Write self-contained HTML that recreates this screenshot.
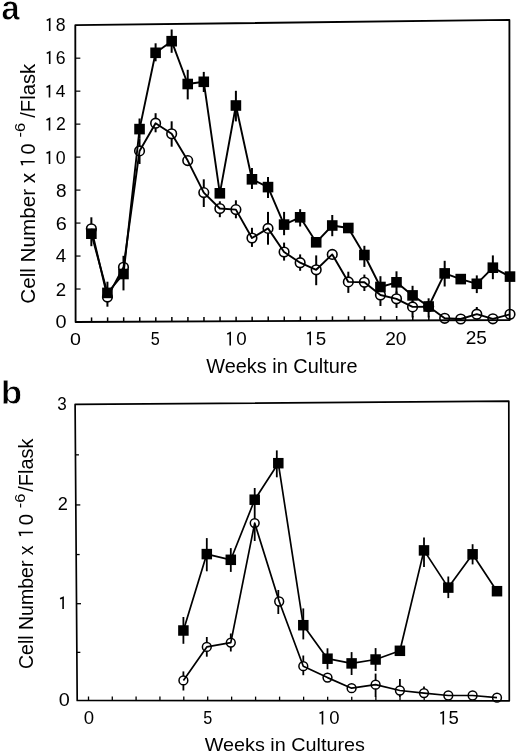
<!DOCTYPE html>
<html><head><meta charset="utf-8"><style>
html,body{margin:0;padding:0;background:#fff;}
svg{display:block;will-change:transform;}
text{font-family:"Liberation Sans",sans-serif;fill:#000;stroke:none;}
</style></head><body>
<svg width="520" height="755" viewBox="0 0 520 755" stroke="#000" stroke-linecap="butt">
<rect x="0" y="0" width="520" height="755" fill="#fff" stroke="none"/>
<g stroke="none">
</g>
<line x1="75.57" y1="289.02" x2="80.57" y2="289.02" stroke-width="1.2"/>
<line x1="75.53" y1="256.04" x2="80.53" y2="256.04" stroke-width="1.2"/>
<line x1="75.50" y1="223.07" x2="80.50" y2="223.07" stroke-width="1.2"/>
<line x1="75.47" y1="190.09" x2="80.47" y2="190.09" stroke-width="1.2"/>
<line x1="75.43" y1="157.11" x2="80.43" y2="157.11" stroke-width="1.2"/>
<line x1="75.40" y1="124.13" x2="80.40" y2="124.13" stroke-width="1.2"/>
<line x1="75.37" y1="91.16" x2="80.37" y2="91.16" stroke-width="1.2"/>
<line x1="75.33" y1="58.18" x2="80.33" y2="58.18" stroke-width="1.2"/>
<line x1="91.56" y1="321.93" x2="91.56" y2="317.43" stroke-width="1.5"/>
<line x1="107.62" y1="321.85" x2="107.62" y2="317.35" stroke-width="1.5"/>
<line x1="123.68" y1="321.78" x2="123.68" y2="317.28" stroke-width="1.5"/>
<line x1="139.74" y1="321.70" x2="139.74" y2="317.20" stroke-width="1.5"/>
<line x1="155.80" y1="321.63" x2="155.80" y2="317.13" stroke-width="1.5"/>
<line x1="171.86" y1="321.56" x2="171.86" y2="317.06" stroke-width="1.5"/>
<line x1="187.92" y1="321.48" x2="187.92" y2="316.98" stroke-width="1.5"/>
<line x1="203.98" y1="321.41" x2="203.98" y2="316.91" stroke-width="1.5"/>
<line x1="220.04" y1="321.33" x2="220.04" y2="316.83" stroke-width="1.5"/>
<line x1="236.10" y1="321.26" x2="236.10" y2="316.76" stroke-width="1.5"/>
<line x1="252.16" y1="321.19" x2="252.16" y2="316.69" stroke-width="1.5"/>
<line x1="268.22" y1="321.11" x2="268.22" y2="316.61" stroke-width="1.5"/>
<line x1="284.28" y1="321.04" x2="284.28" y2="316.54" stroke-width="1.5"/>
<line x1="300.34" y1="320.96" x2="300.34" y2="316.46" stroke-width="1.5"/>
<line x1="316.40" y1="320.89" x2="316.40" y2="316.39" stroke-width="1.5"/>
<line x1="332.46" y1="320.82" x2="332.46" y2="316.32" stroke-width="1.5"/>
<line x1="348.52" y1="320.74" x2="348.52" y2="316.24" stroke-width="1.5"/>
<line x1="364.58" y1="320.67" x2="364.58" y2="316.17" stroke-width="1.5"/>
<line x1="380.64" y1="320.59" x2="380.64" y2="316.09" stroke-width="1.5"/>
<line x1="396.70" y1="320.52" x2="396.70" y2="316.02" stroke-width="1.5"/>
<line x1="412.76" y1="320.45" x2="412.76" y2="315.95" stroke-width="1.5"/>
<line x1="428.82" y1="320.37" x2="428.82" y2="315.87" stroke-width="1.5"/>
<line x1="444.88" y1="320.30" x2="444.88" y2="315.80" stroke-width="1.5"/>
<line x1="460.94" y1="320.22" x2="460.94" y2="315.72" stroke-width="1.5"/>
<line x1="477.00" y1="320.15" x2="477.00" y2="315.65" stroke-width="1.5"/>
<line x1="493.06" y1="320.08" x2="493.06" y2="315.58" stroke-width="1.5"/>
<path d="M46.70,20.40 L49.70,19.00 L49.70,31.00" fill="none" stroke-width="1.6" stroke-linejoin="miter" stroke-linecap="butt"/>
<text transform="translate(55.75,30.83) scale(1.0000,1)" style="font-size:17.66px">8</text>
<path d="M46.70,53.40 L49.70,52.00 L49.70,64.00" fill="none" stroke-width="1.6" stroke-linejoin="miter" stroke-linecap="butt"/>
<text transform="translate(55.76,63.83) scale(1.0000,1)" style="font-size:17.66px">6</text>
<path d="M46.50,87.20 L49.50,85.80 L49.50,97.60" fill="none" stroke-width="1.6" stroke-linejoin="miter" stroke-linecap="butt"/>
<text transform="translate(55.85,97.43) scale(1.0000,1)" style="font-size:17.37px">4</text>
<path d="M46.50,120.00 L49.50,118.60 L49.50,130.60" fill="none" stroke-width="1.6" stroke-linejoin="miter" stroke-linecap="butt"/>
<text transform="translate(56.07,130.43) scale(1.0000,1)" style="font-size:17.66px">2</text>
<path d="M46.50,153.30 L49.50,151.90 L49.50,164.00" fill="none" stroke-width="1.6" stroke-linejoin="miter" stroke-linecap="butt"/>
<text transform="translate(55.80,163.83) scale(1.0000,1)" style="font-size:17.80px">0</text>
<text transform="translate(55.88,196.73) scale(1.0251,1)" style="font-size:18.50px">8</text>
<text transform="translate(55.69,229.73) scale(1.0776,1)" style="font-size:18.50px">6</text>
<text transform="translate(55.87,262.33) scale(1.0764,1)" style="font-size:17.51px">4</text>
<text transform="translate(55.86,295.53) scale(1.0161,1)" style="font-size:18.36px">2</text>
<text transform="translate(55.52,327.63) scale(1.0823,1)" style="font-size:18.36px">0</text>
<text transform="translate(70.03,345.23) scale(1.1319,1)" style="font-size:17.37px">0</text>
<text transform="translate(150.85,345.13) scale(0.9126,1)" style="font-size:17.80px">5</text>
<path d="M227.20,334.10 L230.20,332.70 L230.20,345.50" fill="none" stroke-width="1.6" stroke-linejoin="miter" stroke-linecap="butt"/>
<text transform="translate(236.29,345.33) scale(1.0000,1)" style="font-size:18.79px">0</text>
<path d="M307.20,333.80 L310.20,332.40 L310.20,345.20" fill="none" stroke-width="1.6" stroke-linejoin="miter" stroke-linecap="butt"/>
<text transform="translate(315.74,345.03) scale(1.0000,1)" style="font-size:18.79px">5</text>
<text transform="translate(385.14,344.73) scale(1.0200,1)" style="font-size:18.79px">20</text>
<text transform="translate(465.74,344.03) scale(1.0332,1)" style="font-size:18.50px">25</text>
<line x1="91.36" y1="217.30" x2="91.36" y2="246.20" stroke-width="2.0"/>
<line x1="107.42" y1="281.70" x2="107.42" y2="306.70" stroke-width="2.0"/>
<line x1="123.48" y1="255.80" x2="123.48" y2="290.40" stroke-width="2.0"/>
<line x1="139.54" y1="118.50" x2="139.54" y2="138.60" stroke-width="2.0"/>
<line x1="155.60" y1="43.30" x2="155.60" y2="61.30" stroke-width="2.0"/>
<line x1="171.66" y1="29.50" x2="171.66" y2="52.80" stroke-width="2.0"/>
<line x1="187.72" y1="69.80" x2="187.72" y2="99.40" stroke-width="2.0"/>
<line x1="203.78" y1="71.90" x2="203.78" y2="92.00" stroke-width="2.0"/>
<line x1="235.90" y1="90.80" x2="235.90" y2="121.40" stroke-width="2.0"/>
<line x1="251.96" y1="168.00" x2="251.96" y2="189.00" stroke-width="2.0"/>
<line x1="268.02" y1="177.00" x2="268.02" y2="198.00" stroke-width="2.0"/>
<line x1="284.08" y1="211.90" x2="284.08" y2="235.20" stroke-width="2.0"/>
<line x1="300.14" y1="209.20" x2="300.14" y2="226.50" stroke-width="2.0"/>
<line x1="332.26" y1="215.00" x2="332.26" y2="236.20" stroke-width="2.0"/>
<line x1="364.38" y1="245.80" x2="364.38" y2="266.90" stroke-width="2.0"/>
<line x1="380.44" y1="276.20" x2="380.44" y2="297.30" stroke-width="2.0"/>
<line x1="396.50" y1="271.30" x2="396.50" y2="293.50" stroke-width="2.0"/>
<line x1="412.56" y1="285.80" x2="412.56" y2="305.00" stroke-width="2.0"/>
<line x1="428.62" y1="298.30" x2="428.62" y2="317.50" stroke-width="2.0"/>
<line x1="444.68" y1="260.80" x2="444.68" y2="286.50" stroke-width="2.0"/>
<line x1="476.80" y1="275.40" x2="476.80" y2="293.10" stroke-width="2.0"/>
<line x1="492.86" y1="255.40" x2="492.86" y2="279.20" stroke-width="2.0"/>
<line x1="139.54" y1="138.60" x2="139.54" y2="164.00" stroke-width="2.0"/>
<line x1="155.60" y1="113.20" x2="155.60" y2="132.30" stroke-width="2.0"/>
<line x1="171.66" y1="121.30" x2="171.66" y2="146.70" stroke-width="2.0"/>
<line x1="203.78" y1="179.30" x2="203.78" y2="207.00" stroke-width="2.0"/>
<line x1="219.84" y1="201.30" x2="219.84" y2="217.20" stroke-width="2.0"/>
<line x1="235.90" y1="200.30" x2="235.90" y2="218.30" stroke-width="2.0"/>
<line x1="251.96" y1="227.80" x2="251.96" y2="246.90" stroke-width="2.0"/>
<line x1="268.02" y1="211.90" x2="268.02" y2="244.70" stroke-width="2.0"/>
<line x1="284.08" y1="242.60" x2="284.08" y2="260.60" stroke-width="2.0"/>
<line x1="300.14" y1="254.40" x2="300.14" y2="270.80" stroke-width="2.0"/>
<line x1="316.20" y1="255.40" x2="316.20" y2="285.20" stroke-width="2.0"/>
<line x1="348.32" y1="271.70" x2="348.32" y2="292.90" stroke-width="2.0"/>
<line x1="364.38" y1="274.60" x2="364.38" y2="291.00" stroke-width="2.0"/>
<line x1="380.44" y1="289.60" x2="380.44" y2="306.00" stroke-width="2.0"/>
<line x1="396.50" y1="291.50" x2="396.50" y2="307.90" stroke-width="2.0"/>
<line x1="412.56" y1="301.20" x2="412.56" y2="317.50" stroke-width="2.0"/>
<line x1="476.80" y1="307.00" x2="476.80" y2="318.00" stroke-width="2.0"/>
<circle cx="91.36" cy="228.80" r="4.8" fill="#fff" stroke-width="1.6"/>
<circle cx="107.42" cy="297.10" r="4.8" fill="#fff" stroke-width="1.6"/>
<circle cx="123.48" cy="267.30" r="4.8" fill="#fff" stroke-width="1.6"/>
<circle cx="139.54" cy="150.90" r="4.8" fill="#fff" stroke-width="1.6"/>
<circle cx="155.60" cy="123.20" r="4.8" fill="#fff" stroke-width="1.6"/>
<circle cx="171.66" cy="133.80" r="4.8" fill="#fff" stroke-width="1.6"/>
<circle cx="187.72" cy="160.60" r="4.8" fill="#fff" stroke-width="1.6"/>
<circle cx="203.78" cy="192.60" r="4.8" fill="#fff" stroke-width="1.6"/>
<circle cx="219.84" cy="208.50" r="4.8" fill="#fff" stroke-width="1.6"/>
<circle cx="235.90" cy="209.60" r="4.8" fill="#fff" stroke-width="1.6"/>
<circle cx="251.96" cy="238.00" r="4.8" fill="#fff" stroke-width="1.6"/>
<circle cx="268.02" cy="228.40" r="4.8" fill="#fff" stroke-width="1.6"/>
<circle cx="284.08" cy="252.00" r="4.8" fill="#fff" stroke-width="1.6"/>
<circle cx="300.14" cy="262.70" r="4.8" fill="#fff" stroke-width="1.6"/>
<circle cx="316.20" cy="269.80" r="4.8" fill="#fff" stroke-width="1.6"/>
<circle cx="332.26" cy="254.40" r="4.8" fill="#fff" stroke-width="1.6"/>
<circle cx="348.32" cy="281.90" r="4.8" fill="#fff" stroke-width="1.6"/>
<circle cx="364.38" cy="282.30" r="4.8" fill="#fff" stroke-width="1.6"/>
<circle cx="380.44" cy="295.00" r="4.8" fill="#fff" stroke-width="1.6"/>
<circle cx="396.50" cy="298.80" r="4.8" fill="#fff" stroke-width="1.6"/>
<circle cx="412.56" cy="306.90" r="4.8" fill="#fff" stroke-width="1.6"/>
<circle cx="428.62" cy="306.60" r="4.8" fill="#fff" stroke-width="1.6"/>
<circle cx="444.68" cy="318.30" r="4.8" fill="#fff" stroke-width="1.6"/>
<circle cx="460.74" cy="319.00" r="4.8" fill="#fff" stroke-width="1.6"/>
<circle cx="476.80" cy="314.20" r="4.8" fill="#fff" stroke-width="1.6"/>
<circle cx="492.86" cy="318.80" r="4.8" fill="#fff" stroke-width="1.6"/>
<circle cx="510.00" cy="314.30" r="4.8" fill="#fff" stroke-width="1.6"/>
<polyline points="91.36,233.70 107.42,292.90 123.48,274.00 139.54,129.10 155.60,52.80 171.66,41.20 187.72,84.00 203.78,81.80 219.84,193.30 235.90,105.50 251.96,179.30 268.02,187.10 284.08,224.60 300.14,217.30 316.20,242.30 332.26,225.50 348.32,228.00 364.38,255.00 380.44,287.00 396.50,282.30 412.56,295.40 428.62,306.50 444.68,273.40 460.74,279.10 476.80,283.80 492.86,267.70 510.00,276.60" fill="none" stroke-width="1.9" stroke-linejoin="round"/>
<polyline points="91.36,228.80 107.42,297.10 123.48,267.30 139.54,150.90 155.60,123.20 171.66,133.80 187.72,160.60 203.78,192.60 219.84,208.50 235.90,209.60 251.96,238.00 268.02,228.40 284.08,252.00 300.14,262.70 316.20,269.80 332.26,254.40 348.32,281.90 364.38,282.30 380.44,295.00 396.50,298.80 412.56,306.90 428.62,306.60 444.68,318.30 460.74,319.00 476.80,314.20 492.86,318.80 510.00,314.30" fill="none" stroke-width="1.9" stroke-linejoin="round"/>
<rect x="86.06" y="228.40" width="10.6" height="10.6" fill="#000" stroke="none"/>
<rect x="102.12" y="287.60" width="10.6" height="10.6" fill="#000" stroke="none"/>
<rect x="118.18" y="268.70" width="10.6" height="10.6" fill="#000" stroke="none"/>
<rect x="134.24" y="123.80" width="10.6" height="10.6" fill="#000" stroke="none"/>
<rect x="150.30" y="47.50" width="10.6" height="10.6" fill="#000" stroke="none"/>
<rect x="166.36" y="35.90" width="10.6" height="10.6" fill="#000" stroke="none"/>
<rect x="182.42" y="78.70" width="10.6" height="10.6" fill="#000" stroke="none"/>
<rect x="198.48" y="76.50" width="10.6" height="10.6" fill="#000" stroke="none"/>
<rect x="214.54" y="188.00" width="10.6" height="10.6" fill="#000" stroke="none"/>
<rect x="230.60" y="100.20" width="10.6" height="10.6" fill="#000" stroke="none"/>
<rect x="246.66" y="174.00" width="10.6" height="10.6" fill="#000" stroke="none"/>
<rect x="262.72" y="181.80" width="10.6" height="10.6" fill="#000" stroke="none"/>
<rect x="278.78" y="219.30" width="10.6" height="10.6" fill="#000" stroke="none"/>
<rect x="294.84" y="212.00" width="10.6" height="10.6" fill="#000" stroke="none"/>
<rect x="310.90" y="237.00" width="10.6" height="10.6" fill="#000" stroke="none"/>
<rect x="326.96" y="220.20" width="10.6" height="10.6" fill="#000" stroke="none"/>
<rect x="343.02" y="222.70" width="10.6" height="10.6" fill="#000" stroke="none"/>
<rect x="359.08" y="249.70" width="10.6" height="10.6" fill="#000" stroke="none"/>
<rect x="375.14" y="281.70" width="10.6" height="10.6" fill="#000" stroke="none"/>
<rect x="391.20" y="277.00" width="10.6" height="10.6" fill="#000" stroke="none"/>
<rect x="407.26" y="290.10" width="10.6" height="10.6" fill="#000" stroke="none"/>
<rect x="423.32" y="301.20" width="10.6" height="10.6" fill="#000" stroke="none"/>
<rect x="439.38" y="268.10" width="10.6" height="10.6" fill="#000" stroke="none"/>
<rect x="455.44" y="273.80" width="10.6" height="10.6" fill="#000" stroke="none"/>
<rect x="471.50" y="278.50" width="10.6" height="10.6" fill="#000" stroke="none"/>
<rect x="487.56" y="262.40" width="10.6" height="10.6" fill="#000" stroke="none"/>
<rect x="504.70" y="271.30" width="10.6" height="10.6" fill="#000" stroke="none"/>
<text transform="translate(1.33,19.90) scale(0.9633,1)" style="font-weight:bold;stroke:#fff;stroke-width:0.8px;font-size:34.46px">a</text>
<text transform="translate(206.21,372.90) scale(0.9960,1)" style="font-size:20.00px">Weeks in Culture</text>
<text transform="translate(34.90,303.75) rotate(-90) scale(1.0345,1)" style="font-size:20.00px">Cell Number x</text>
<text transform="translate(34.50,154.57) rotate(-90) scale(0.9592,1)" style="font-size:20.50px">0</text>
<path d="M22.6,165.2 L21.4,161.7 L34.7,161.7" fill="none" stroke-width="1.6" stroke-linejoin="miter"/>
<text transform="translate(25.30,137.53) rotate(-90) scale(1.0635,1)" style="font-size:15.50px">-6</text>
<text transform="translate(34.90,117.80) rotate(-90) scale(1.0118,1)" style="font-size:20.00px">/Flask</text>
<line x1="76.85" y1="652.38" x2="80.35" y2="652.38" stroke-width="1.3"/>
<line x1="76.50" y1="603.70" x2="81.00" y2="603.70" stroke-width="1.3"/>
<line x1="76.15" y1="554.55" x2="79.65" y2="554.55" stroke-width="1.3"/>
<line x1="75.80" y1="504.93" x2="80.30" y2="504.93" stroke-width="1.3"/>
<line x1="75.45" y1="454.84" x2="78.95" y2="454.84" stroke-width="1.3"/>
<text transform="translate(57.15,410.03) scale(0.9094,1)" style="font-size:18.79px">3</text>
<text transform="translate(57.78,509.73) scale(0.9922,1)" style="font-size:18.36px">2</text>
<path d="M60.10,598.80 L63.10,597.40 L63.10,609.00" fill="none" stroke-width="1.6" stroke-linejoin="miter" stroke-linecap="butt"/>
<text transform="translate(58.72,705.93) scale(1.1347,1)" style="font-size:17.51px">0</text>
<line x1="88.50" y1="700.51" x2="88.50" y2="696.51" stroke-width="1.3"/>
<line x1="112.28" y1="700.52" x2="112.28" y2="696.52" stroke-width="1.3"/>
<line x1="136.09" y1="700.54" x2="136.09" y2="696.54" stroke-width="1.3"/>
<line x1="159.93" y1="700.56" x2="159.93" y2="696.56" stroke-width="1.3"/>
<line x1="183.80" y1="700.57" x2="183.80" y2="696.57" stroke-width="1.3"/>
<line x1="207.70" y1="700.59" x2="207.70" y2="696.59" stroke-width="1.3"/>
<line x1="231.63" y1="700.61" x2="231.63" y2="696.61" stroke-width="1.3"/>
<line x1="255.60" y1="700.62" x2="255.60" y2="696.62" stroke-width="1.3"/>
<line x1="279.59" y1="700.64" x2="279.59" y2="696.64" stroke-width="1.3"/>
<line x1="303.62" y1="700.66" x2="303.62" y2="696.66" stroke-width="1.3"/>
<line x1="327.67" y1="700.67" x2="327.67" y2="696.67" stroke-width="1.3"/>
<line x1="351.76" y1="700.69" x2="351.76" y2="696.69" stroke-width="1.3"/>
<line x1="375.87" y1="700.71" x2="375.87" y2="696.71" stroke-width="1.3"/>
<line x1="400.02" y1="700.72" x2="400.02" y2="696.72" stroke-width="1.3"/>
<line x1="424.19" y1="700.74" x2="424.19" y2="696.74" stroke-width="1.3"/>
<line x1="448.40" y1="700.76" x2="448.40" y2="696.76" stroke-width="1.3"/>
<line x1="472.64" y1="700.77" x2="472.64" y2="696.77" stroke-width="1.3"/>
<line x1="496.91" y1="700.79" x2="496.91" y2="696.79" stroke-width="1.3"/>
<text transform="translate(83.67,723.73) scale(0.9986,1)" style="font-size:18.64px">0</text>
<text transform="translate(203.35,724.43) scale(0.9054,1)" style="font-size:17.94px">5</text>
<path d="M319.50,713.40 L322.50,712.00 L322.50,724.60" fill="none" stroke-width="1.6" stroke-linejoin="miter" stroke-linecap="butt"/>
<text transform="translate(329.23,724.43) scale(1.0000,1)" style="font-size:18.50px">0</text>
<path d="M440.30,713.40 L443.30,712.00 L443.30,724.60" fill="none" stroke-width="1.6" stroke-linejoin="miter" stroke-linecap="butt"/>
<text transform="translate(448.59,724.43) scale(1.0000,1)" style="font-size:18.50px">5</text>
<line x1="183.40" y1="617.00" x2="183.40" y2="643.80" stroke-width="1.8"/>
<line x1="206.80" y1="538.10" x2="206.80" y2="571.30" stroke-width="1.8"/>
<line x1="230.80" y1="548.10" x2="230.80" y2="571.90" stroke-width="1.8"/>
<line x1="254.70" y1="488.00" x2="254.70" y2="520.00" stroke-width="1.8"/>
<line x1="276.80" y1="450.40" x2="276.80" y2="477.30" stroke-width="1.8"/>
<line x1="303.30" y1="608.40" x2="303.30" y2="639.40" stroke-width="1.8"/>
<line x1="327.50" y1="648.30" x2="327.50" y2="669.20" stroke-width="1.8"/>
<line x1="351.60" y1="652.10" x2="351.60" y2="675.00" stroke-width="1.8"/>
<line x1="375.60" y1="648.10" x2="375.60" y2="671.00" stroke-width="1.8"/>
<line x1="424.00" y1="537.50" x2="424.00" y2="567.10" stroke-width="1.8"/>
<line x1="448.30" y1="576.50" x2="448.30" y2="598.10" stroke-width="1.8"/>
<line x1="472.60" y1="544.20" x2="472.60" y2="564.40" stroke-width="1.8"/>
<line x1="183.40" y1="671.40" x2="183.40" y2="690.50" stroke-width="1.8"/>
<line x1="206.80" y1="637.00" x2="206.80" y2="656.70" stroke-width="1.8"/>
<line x1="230.80" y1="633.50" x2="230.80" y2="651.50" stroke-width="1.8"/>
<line x1="254.70" y1="523.00" x2="254.70" y2="541.00" stroke-width="1.8"/>
<line x1="278.30" y1="590.00" x2="278.30" y2="614.00" stroke-width="1.8"/>
<line x1="303.30" y1="655.50" x2="303.30" y2="675.20" stroke-width="1.8"/>
<line x1="375.60" y1="673.60" x2="375.60" y2="697.00" stroke-width="1.8"/>
<line x1="399.90" y1="679.00" x2="399.90" y2="697.00" stroke-width="1.8"/>
<line x1="424.00" y1="686.50" x2="424.00" y2="697.00" stroke-width="1.8"/>
<line x1="448.30" y1="693.00" x2="448.30" y2="699.00" stroke-width="1.8"/>
<line x1="472.60" y1="693.00" x2="472.60" y2="699.00" stroke-width="1.8"/>
<circle cx="183.40" cy="680.40" r="4.4" fill="#fff" stroke-width="1.5"/>
<circle cx="206.80" cy="646.90" r="4.4" fill="#fff" stroke-width="1.5"/>
<circle cx="230.80" cy="642.60" r="4.4" fill="#fff" stroke-width="1.5"/>
<circle cx="254.70" cy="523.10" r="4.4" fill="#fff" stroke-width="1.5"/>
<circle cx="279.20" cy="601.50" r="4.4" fill="#fff" stroke-width="1.5"/>
<circle cx="303.30" cy="666.20" r="4.4" fill="#fff" stroke-width="1.5"/>
<circle cx="327.50" cy="677.60" r="4.4" fill="#fff" stroke-width="1.5"/>
<circle cx="351.60" cy="688.20" r="4.4" fill="#fff" stroke-width="1.5"/>
<circle cx="375.60" cy="684.70" r="4.4" fill="#fff" stroke-width="1.5"/>
<circle cx="399.90" cy="690.50" r="4.4" fill="#fff" stroke-width="1.5"/>
<circle cx="424.00" cy="693.10" r="4.4" fill="#fff" stroke-width="1.5"/>
<circle cx="448.30" cy="695.50" r="4.4" fill="#fff" stroke-width="1.5"/>
<circle cx="472.60" cy="695.50" r="4.4" fill="#fff" stroke-width="1.5"/>
<circle cx="497.00" cy="697.70" r="4.4" fill="#fff" stroke-width="1.5"/>
<polyline points="183.40,630.50 206.80,554.10 230.80,559.80 254.70,499.70 278.30,463.20 303.30,625.20 327.50,658.70 351.60,663.40 375.60,659.50 399.90,650.80 424.00,550.40 448.30,587.60 472.60,554.30 497.00,591.20" fill="none" stroke-width="1.7" stroke-linejoin="round"/>
<polyline points="183.40,680.40 206.80,646.90 230.80,642.60 254.70,523.10 279.20,601.50 303.30,666.20 327.50,677.60 351.60,688.20 375.60,684.70 399.90,690.50 424.00,693.10 448.30,695.50 472.60,695.50 497.00,697.70" fill="none" stroke-width="1.7" stroke-linejoin="round"/>
<rect x="178.15" y="625.25" width="10.5" height="10.5" fill="#000" stroke="none"/>
<rect x="201.55" y="548.85" width="10.5" height="10.5" fill="#000" stroke="none"/>
<rect x="225.55" y="554.55" width="10.5" height="10.5" fill="#000" stroke="none"/>
<rect x="249.45" y="494.45" width="10.5" height="10.5" fill="#000" stroke="none"/>
<rect x="273.05" y="457.95" width="10.5" height="10.5" fill="#000" stroke="none"/>
<rect x="298.05" y="619.95" width="10.5" height="10.5" fill="#000" stroke="none"/>
<rect x="322.25" y="653.45" width="10.5" height="10.5" fill="#000" stroke="none"/>
<rect x="346.35" y="658.15" width="10.5" height="10.5" fill="#000" stroke="none"/>
<rect x="370.35" y="654.25" width="10.5" height="10.5" fill="#000" stroke="none"/>
<rect x="394.65" y="645.55" width="10.5" height="10.5" fill="#000" stroke="none"/>
<rect x="418.75" y="545.15" width="10.5" height="10.5" fill="#000" stroke="none"/>
<rect x="443.05" y="582.35" width="10.5" height="10.5" fill="#000" stroke="none"/>
<rect x="467.35" y="549.05" width="10.5" height="10.5" fill="#000" stroke="none"/>
<rect x="491.75" y="585.95" width="10.5" height="10.5" fill="#000" stroke="none"/>
<text transform="translate(0.78,403.90) scale(1.0304,1)" style="font-weight:bold;stroke:#fff;stroke-width:0.8px;font-size:34.09px">b</text>
<text transform="translate(204.71,751.20) scale(1.0418,1)" style="font-size:19.00px">Weeks in Cultures</text>
<text transform="translate(33.20,668.99) rotate(-90) scale(1.0006,1)" style="font-size:19.50px">Cell Number x</text>
<text transform="translate(33.20,525.29) rotate(-90) scale(0.9898,1)" style="font-size:20.50px">0</text>
<path d="M20.6,536.1 L19.4,532.5 L32.9,532.5" fill="none" stroke-width="1.6" stroke-linejoin="miter"/>
<text transform="translate(24.80,508.23) rotate(-90) scale(1.0989,1)" style="font-size:15.00px">-6</text>
<text transform="translate(33.20,491.70) rotate(-90) scale(1.0224,1)" style="font-size:19.50px">/Flask</text>
<polygon points="75.60,322.00 75.30,25.20 509.40,19.90 509.70,320.00 75.60,322.00" fill="none" stroke-width="1.85" stroke-linejoin="round"/>
<polygon points="77.20,700.50 75.10,404.40 508.80,401.20 509.30,700.80 77.20,700.50" fill="none" stroke-width="1.7" stroke-linejoin="round"/>
</svg>
</body></html>
